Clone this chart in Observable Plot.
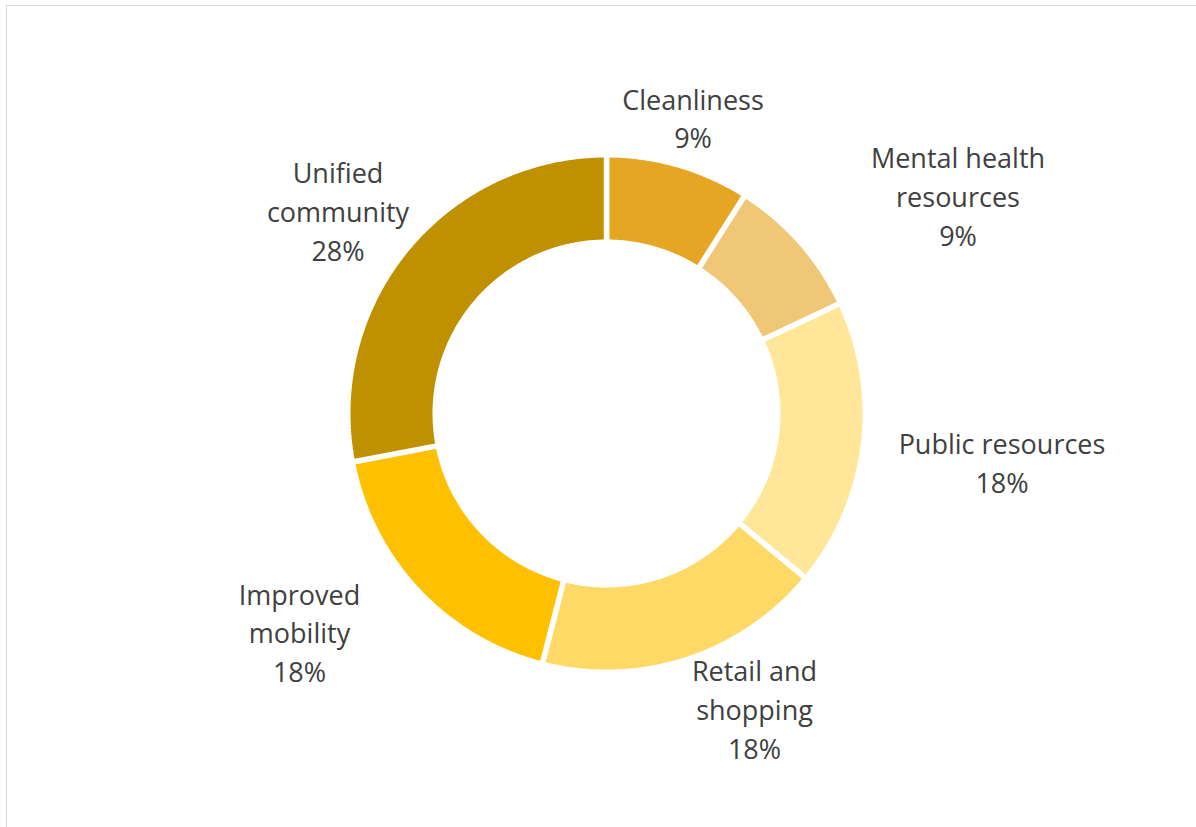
<!DOCTYPE html>
<html>
<head>
<meta charset="utf-8">
<script src="https://cdn.jsdelivr.net/npm/d3@7"></script>
<script src="https://cdn.jsdelivr.net/npm/@observablehq/plot@0.6"></script>
<style>
  html, body { margin: 0; padding: 0; background: #fff; overflow: hidden; }
  #wrap { position: relative; width: 1196px; height: 827px; }
  #border { position: absolute; left: 6px; top: 5px; width: 1300px; height: 1000px; border: 1.5px solid #d9d9d9; box-sizing: border-box; pointer-events: none; }
  #chart { position: absolute; left: 0; top: 0; }
</style>
</head>
<body>
<div id="wrap"><div id="chart"></div><div id="border"></div></div>
<script>
// ---- data ----
const categories = ["Cleanliness", "Mental health resources", "Public resources", "Retail and shopping", "Improved mobility", "Unified community"];
const values = [9, 9, 18, 18, 18, 28];
const percentLabels = ["9%", "9%", "18%", "18%", "18%", "28%"];
const labelLines = ["Cleanliness", "Mental health\nresources", "Public resources", "Retail and\nshopping", "Improved\nmobility", "Unified\ncommunity"];
const colors = ["#E5A624", "#F0C677", "#FFE699", "#FFD966", "#FFC000", "#BF9000"];

// ---- layout (pixels relative to donut centre) ----
const W = 1196, H = 827, cx = 606, cy = 413;
const gap = 5.5;
const rOuter = 256 + gap / 2, rInner = 174 - gap / 2;
const labelOffsets = [[86.5, -297], [351.5, -219], [395.5, 47.5], [148, 294], [-307, 217.5], [-268.5, -204]];

// build slice polygons from the values
const total = d3.sum(values);
const polyPts = [];
let acc = 0;
categories.forEach((c, i) => {
  const a0 = acc / total * 2 * Math.PI;
  acc += values[i];
  const a1 = acc / total * 2 * Math.PI;
  const n = Math.max(8, Math.ceil((a1 - a0) / 0.01));
  const pts = [];
  for (let k = 0; k <= n; k++) { const a = a0 + (a1 - a0) * k / n; pts.push([rOuter * Math.sin(a), -rOuter * Math.cos(a)]); }
  for (let k = n; k >= 0; k--) { const a = a0 + (a1 - a0) * k / n; pts.push([rInner * Math.sin(a), -rInner * Math.cos(a)]); }
  pts.push(pts[0]);
  pts.forEach(([x, y], j) => polyPts.push({category: c, x, y, j}));
});

const labels = categories.map((c, i) => ({
  category: c,
  text: labelLines[i] + "\n" + percentLabels[i],
  x: labelOffsets[i][0],
  y: labelOffsets[i][1]
}));

const chart = Plot.plot({
  width: W,
  height: H,
  margin: 0,
  style: {background: "transparent", fontFamily: "'Open Sans', sans-serif"},
  x: {domain: [-cx, W - cx], range: [0, W], axis: null},
  y: {domain: [-cy, H - cy], range: [0, H], axis: null},
  color: {domain: categories, range: colors},
  marks: [
    Plot.line(polyPts, {x: "x", y: "y", z: "category", fill: "category", stroke: "#fff", strokeWidth: gap, strokeLinejoin: "miter", curve: "linear"}),
    Plot.text(labels, {x: "x", y: "y", text: "text", fill: "#404040", fontSize: 27, lineHeight: 1.44, textAnchor: "middle", lineAnchor: "middle"})
  ]
});
document.getElementById("chart").appendChild(chart);
</script>
</body>
</html>
